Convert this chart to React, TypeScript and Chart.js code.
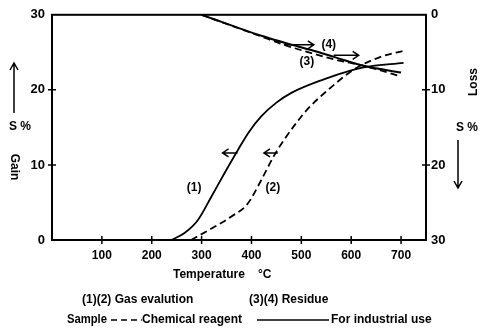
import { useEffect, useRef } from "react";
import { Chart, registerables } from "chart.js";

Chart.register(...registerables);

// ---- data ----
const gas1Temp = [239, 265, 292, 319, 345, 372, 395, 420, 450, 480, 545, 600, 625, 705];
const gas1Gain = [0, 0.9, 2.6, 5.7, 8.8, 11.9, 14.4, 16.5, 18.3, 19.6, 21.4, 22.6, 23.0, 23.6];

const gas2Temp = [279, 319, 359, 392, 419, 445, 465, 490, 512, 559, 605, 659, 705];
const gas2Gain = [0, 1.5, 3.1, 4.8, 7.9, 11.2, 13.3, 15.6, 17.4, 20.3, 22.7, 24.4, 25.2];

const res3Temp = [300, 420, 470, 520, 570, 625, 700];
const res3Loss = [0, 2.9, 4.1, 5.1, 6.0, 6.8, 8.2];

const res4Temp = [300, 420, 470, 520, 570, 625, 700];
const res4Loss = [0, 2.8, 3.8, 4.7, 5.7, 6.8, 7.7];

const tempTicks = [100, 200, 300, 400, 500, 600, 700];
const gainTicks = [0, 10, 20, 30];
const lossTicks = [0, 10, 20, 30];

// curve labels and arrows, in data units
const gainLabels = [
  { text: "(1)", t: 285, v: 7.0 },
  { text: "(2)", t: 443, v: 7.0 },
];
const lossLabels = [
  { text: "(4)", t: 555, v: 4.0 },
  { text: "(3)", t: 511, v: 6.2 },
];
const gainArrows = [
  { from: 372, to: 342, v: 11.6 },
  { from: 453, to: 425, v: 11.6 },
];
const lossArrows = [
  { from: 465, to: 525, v: 4.0 },
  { from: 565, to: 615, v: 5.4 },
];

const FONT = '"Liberation Sans", Arial, sans-serif';

const pts = (xs: number[], ys: number[]) => xs.map((x, i) => ({ x, y: ys[i] }));

function arrowH(ctx: CanvasRenderingContext2D, x1: number, x2: number, y: number) {
  const dir = x2 > x1 ? 1 : -1;
  ctx.beginPath();
  ctx.moveTo(x1, y);
  ctx.lineTo(x2, y);
  ctx.moveTo(x2 - dir * 6, y - 4);
  ctx.lineTo(x2, y);
  ctx.lineTo(x2 - dir * 6, y + 4);
  ctx.stroke();
}

function arrowV(ctx: CanvasRenderingContext2D, x: number, y1: number, y2: number) {
  const dir = y2 > y1 ? 1 : -1;
  ctx.beginPath();
  ctx.moveTo(x, y1);
  ctx.lineTo(x, y2);
  ctx.moveTo(x - 4, y2 - dir * 7);
  ctx.lineTo(x, y2);
  ctx.lineTo(x + 4, y2 - dir * 7);
  ctx.stroke();
}

const overlay = {
  id: "overlay",
  afterDraw(chart: any) {
    const { ctx, chartArea: a, scales } = chart;
    const sx = scales.x, sl = scales.y, sr = scales.y1;
    ctx.save();
    ctx.strokeStyle = "#000";
    ctx.fillStyle = "#000";
    ctx.lineCap = "butt";
    ctx.setLineDash([]);

    // frame
    ctx.lineWidth = 2;
    ctx.strokeRect(a.left, a.top, a.right - a.left, a.bottom - a.top);

    // crossing tick marks
    ctx.lineWidth = 1.5;
    ctx.beginPath();
    tempTicks.forEach((t) => {
      const px = sx.getPixelForValue(t);
      ctx.moveTo(px, a.bottom - 4);
      ctx.lineTo(px, a.bottom + 4);
    });
    gainTicks.slice(1, -1).forEach((v) => {
      const py = sl.getPixelForValue(v);
      ctx.moveTo(a.left - 4, py);
      ctx.lineTo(a.left + 4, py);
    });
    lossTicks.slice(1, -1).forEach((v) => {
      const py = sr.getPixelForValue(v);
      ctx.moveTo(a.right - 4, py);
      ctx.lineTo(a.right + 4, py);
    });
    ctx.stroke();

    // arrows on curves
    ctx.lineWidth = 1.5;
    gainArrows.forEach((ar) =>
      arrowH(ctx, sx.getPixelForValue(ar.from), sx.getPixelForValue(ar.to), sl.getPixelForValue(ar.v))
    );
    lossArrows.forEach((ar) =>
      arrowH(ctx, sx.getPixelForValue(ar.from), sx.getPixelForValue(ar.to), sr.getPixelForValue(ar.v))
    );

    // curve labels
    ctx.font = `bold 12px ${FONT}`;
    ctx.textAlign = "center";
    ctx.textBaseline = "middle";
    gainLabels.forEach((l) => ctx.fillText(l.text, sx.getPixelForValue(l.t), sl.getPixelForValue(l.v)));
    lossLabels.forEach((l) => ctx.fillText(l.text, sx.getPixelForValue(l.t), sr.getPixelForValue(l.v)));

    // left axis title
    ctx.lineWidth = 1.5;
    arrowV(ctx, 14, 113, 63);
    ctx.font = `bold 12px ${FONT}`;
    ctx.fillText("S %", 20, 127);
    ctx.save();
    ctx.translate(14, 167);
    ctx.rotate(Math.PI / 2);
    ctx.fillText("Gain", 0, 0);
    ctx.restore();

    // right axis title
    ctx.save();
    ctx.translate(474, 82);
    ctx.rotate(-Math.PI / 2);
    ctx.fillText("Loss", 0, 0);
    ctx.restore();
    ctx.fillText("S %", 467, 128);
    arrowV(ctx, 458, 140, 188);

    // x axis title
    ctx.textAlign = "left";
    ctx.fillText("Temperature", 173, 275);
    ctx.fillText("°C", 258, 275);

    // legend lines
    ctx.fillText("(1)(2) Gas evalution", 82, 300, 146);
    ctx.fillText("(3)(4) Residue", 249, 300, 93);

    ctx.fillText("Sample", 67, 320, 40);
    ctx.lineWidth = 1.5;
    ctx.setLineDash([6, 4]);
    ctx.beginPath();
    ctx.moveTo(111, 320);
    ctx.lineTo(142, 320);
    ctx.stroke();
    ctx.setLineDash([]);
    ctx.fillText("Chemical reagent", 142, 320, 104);
    ctx.beginPath();
    ctx.moveTo(257, 320);
    ctx.lineTo(329, 320);
    ctx.stroke();
    ctx.fillText("For industrial use", 331, 320, 122);

    ctx.restore();
  },
};

export default function App() {
  const ref = useRef<HTMLCanvasElement | null>(null);

  useEffect(() => {
    document.body.style.margin = "0";
    const canvas = ref.current;
    if (!canvas) return;
    const tickFont = { family: FONT, size: 12, weight: "bold" as const };
    const chart = new Chart(canvas, {
      type: "line",
      data: {
        datasets: [
          {
            label: "(1)",
            data: pts(gas1Temp, gas1Gain),
            yAxisID: "y",
            borderColor: "#000",
            borderWidth: 1.8,
            pointRadius: 0,
            cubicInterpolationMode: "monotone",
          },
          {
            label: "(2)",
            data: pts(gas2Temp, gas2Gain),
            yAxisID: "y",
            borderColor: "#000",
            borderWidth: 1.8,
            borderDash: [7, 4],
            pointRadius: 0,
            cubicInterpolationMode: "monotone",
          },
          {
            label: "(3)",
            data: pts(res3Temp, res3Loss),
            yAxisID: "y1",
            borderColor: "#000",
            borderWidth: 1.8,
            borderDash: [7, 4],
            pointRadius: 0,
            cubicInterpolationMode: "monotone",
          },
          {
            label: "(4)",
            data: pts(res4Temp, res4Loss),
            yAxisID: "y1",
            borderColor: "#000",
            borderWidth: 2,
            pointRadius: 0,
            cubicInterpolationMode: "monotone",
          },
        ],
      },
      options: {
        animation: false,
        responsive: true,
        maintainAspectRatio: false,
        layout: { padding: { top: 13, left: 0, right: 0, bottom: 0 } },
        plugins: { legend: { display: false }, tooltip: { enabled: false } },
        scales: {
          x: {
            type: "linear",
            min: 0,
            max: 750,
            grid: { display: false, drawTicks: false },
            border: { display: false },
            ticks: { font: tickFont, color: "#000", padding: 8, maxRotation: 0 },
            afterBuildTicks: (s: any) => {
              s.ticks = tempTicks.map((v) => ({ value: v }));
            },
            afterFit: (s: any) => {
              s.height = 94;
            },
          },
          y: {
            type: "linear",
            position: "left",
            min: 0,
            max: 30,
            grid: { display: false, drawTicks: false },
            border: { display: false },
            ticks: { font: { ...tickFont, size: 13 }, color: "#000", padding: 7 },
            afterBuildTicks: (s: any) => {
              s.ticks = gainTicks.map((v) => ({ value: v }));
            },
            afterFit: (s: any) => {
              s.width = 52;
            },
          },
          y1: {
            type: "linear",
            position: "right",
            min: 0,
            max: 30,
            reverse: true,
            grid: { display: false, drawTicks: false },
            border: { display: false },
            ticks: { font: { ...tickFont, size: 13 }, color: "#000", padding: 5, crossAlign: "near" },
            afterBuildTicks: (s: any) => {
              s.ticks = lossTicks.map((v) => ({ value: v }));
            },
            afterFit: (s: any) => {
              s.width = 57;
            },
          },
        },
      },
      plugins: [overlay],
    });
    return () => chart.destroy();
  }, []);

  return (
    <div style={{ position: "relative", width: 483, height: 334, background: "#fff" }}>
      <canvas ref={ref} />
    </div>
  );
}
